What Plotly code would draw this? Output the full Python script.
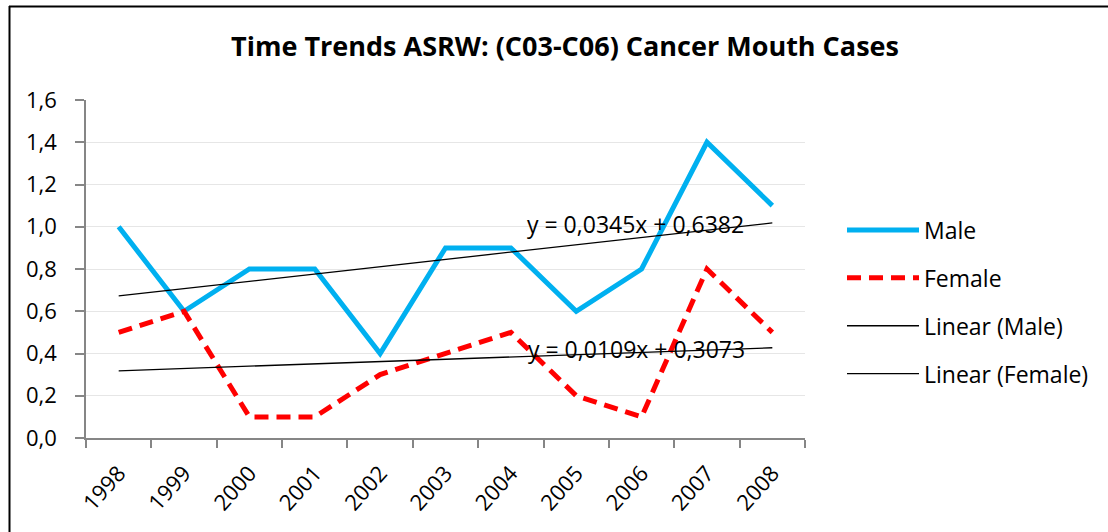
import numpy as np
import plotly.graph_objects as go

years = ["1998", "1999", "2000", "2001", "2002", "2003", "2004", "2005", "2006", "2007", "2008"]
male = [1.0, 0.6, 0.8, 0.8, 0.4, 0.9, 0.9, 0.6, 0.8, 1.4, 1.1]
female = [0.5, 0.6, 0.1, 0.1, 0.3, 0.4, 0.5, 0.2, 0.1, 0.8, 0.5]
y_ticks = [0.0, 0.2, 0.4, 0.6, 0.8, 1.0, 1.2, 1.4, 1.6]

FONT = "Open Sans"
W, H = 1108, 532
L, R, T, B = 86, 303, 100, 94
PW, PH = W - L - R, H - T - B

idx = np.arange(1, len(years) + 1)
m_slope, m_int = np.polyfit(idx, male, 1)
f_slope, f_int = np.polyfit(idx, female, 1)
male_fit = m_slope * idx + m_int
female_fit = f_slope * idx + f_int


def eq(s, i):
    return f"y = {s:.4f}x + {i:.4f}".replace(".", ",")


def px_x(p):
    return (p - L) / PW


def px_y(p):
    return (H - B - p) / PH


fig = go.Figure()
fig.add_trace(go.Scatter(x=years, y=male, mode="lines", name="Male",
                         line=dict(color="#00B0F0", width=5), legendgroup="a"))
fig.add_trace(go.Scatter(x=years, y=female, mode="lines", name="Female",
                         line=dict(color="#FF0000", width=5, dash="14px,8px"), legendgroup="b"))
fig.add_trace(go.Scatter(x=years, y=male_fit, mode="lines", name="Linear (Male)",
                         line=dict(color="black", width=1.3), legendgroup="c"))
fig.add_trace(go.Scatter(x=years, y=female_fit, mode="lines", name="Linear (Female)",
                         line=dict(color="black", width=1.3), legendgroup="d"))

fig.add_annotation(x=7.91, y=1.013, xref="x", yref="y", text=eq(m_slope, m_int),
                   showarrow=False, font=dict(family=FONT, size=23, color="black"))
fig.add_annotation(x=7.92, y=0.421, xref="x", yref="y", text=eq(f_slope, f_int),
                   showarrow=False, font=dict(family=FONT, size=23, color="black"))

# outer chart border (top and left visible)
fig.add_shape(type="line", xref="paper", yref="paper",
              x0=px_x(9), x1=px_x(1120), y0=px_y(6.5), y1=px_y(6.5),
              line=dict(color="black", width=2))
fig.add_shape(type="line", xref="paper", yref="paper",
              x0=px_x(9.5), x1=px_x(9.5), y0=px_y(6), y1=px_y(545),
              line=dict(color="black", width=2))

fig.update_layout(
    width=W, height=H,
    margin=dict(l=L, r=R, t=T, b=B),
    paper_bgcolor="white", plot_bgcolor="white",
    separators=",.",
    title=dict(text="<b>Time Trends ASRW: (C03-C06) Cancer Mouth Cases</b>",
               x=565 / W, xanchor="center",
               y=1 - 47 / H, yanchor="middle",
               font=dict(family=FONT, size=27, color="black")),
    font=dict(family=FONT, size=22, color="black"),
    legend=dict(x=px_x(842), y=px_y(302), xanchor="left", yanchor="middle",
                font=dict(family=FONT, size=23, color="black"),
                itemwidth=72, tracegroupgap=15, bgcolor="rgba(0,0,0,0)"),
    showlegend=True,
)
fig.update_xaxes(type="category", range=[-0.5, 10.5], tickson="boundaries",
                 ticks="outside", ticklen=8, tickcolor="#868686", tickwidth=1.5,
                 showline=True, linecolor="#868686", linewidth=1.5,
                 showgrid=False, tickangle=-48, ticklabelstandoff=12,
                 tickfont=dict(family=FONT, size=22, color="black"))
fig.update_yaxes(range=[0, 1.6], tickvals=y_ticks, tickformat=".1f",
                 ticks="outside", ticklen=9, tickcolor="#868686", tickwidth=1.5,
                 showline=True, linecolor="#868686", linewidth=1.5,
                 showgrid=True, gridcolor="#E6E6E6", gridwidth=1.2,
                 zeroline=False, ticklabelstandoff=14,
                 tickfont=dict(family=FONT, size=22, color="black"))

fig.write_html("out.html", config={"displayModeBar": False},
               post_script="document.body.style.margin='0';")
